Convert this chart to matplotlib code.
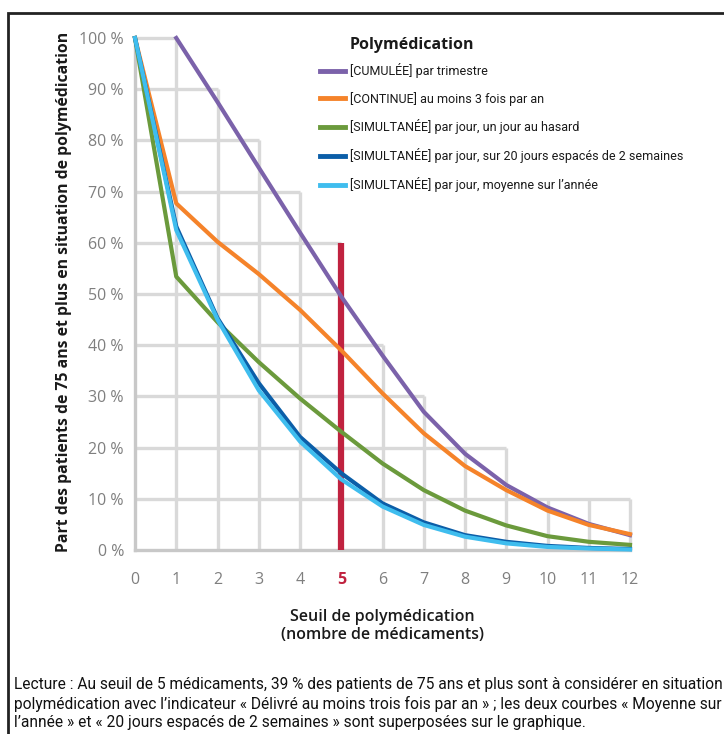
import matplotlib
matplotlib.use("Agg")
import matplotlib.pyplot as plt
from matplotlib.patches import Rectangle
from matplotlib import font_manager as fm

# ---------------- data ----------------
seuils = list(range(0, 13))
cumulee_x = list(range(1, 13))
cumulee = [100, 87.5, 74.7, 62.0, 49.5, 38.0, 27.0, 18.8, 12.7, 8.3, 5.1, 2.9]
continue_ = [100, 67.7, 60.2, 53.9, 46.9, 39.0, 30.6, 22.8, 16.4, 11.7, 7.7, 4.9, 3.1]
simult_hasard = [100, 53.4, 44.5, 36.7, 29.6, 23.1, 16.9, 11.7, 7.7, 4.8, 2.7, 1.6, 1.0]
simult_20j = [100, 63.2, 45.3, 32.6, 22.1, 15.0, 9.1, 5.4, 2.9, 1.6, 0.8, 0.4, 0.2]
simult_moy = [100, 62.5, 45.0, 31.2, 21.2, 13.8, 8.5, 4.9, 2.6, 1.3, 0.6, 0.3, 0.1]

labels = [
    "[CUMULÉE] par trimestre",
    "[CONTINUE] au moins 3 fois par an",
    "[SIMULTANÉE] par jour, un jour au hasard",
    "[SIMULTANÉE] par jour, sur 20 jours espacés de 2 semaines",
    "[SIMULTANÉE] par jour, moyenne sur l’année",
]
colors = ["#7b62aa", "#f5832a", "#6b9a3c", "#0b5ea8", "#3fbdee"]

yticks = [0, 10, 20, 30, 40, 50, 60, 70, 80, 90, 100]
ytick_labels = [f"{v} %" for v in yticks]
# staircase grid extents
hgrid_y = [10, 20, 30, 40, 50, 60, 70, 80, 90, 100]
hgrid_xmax = [12, 9, 7, 6, 5, 5, 4, 3, 2, 1]
vgrid_x = [1, 2, 3, 4, 6, 7, 8, 9, 10, 11, 12]
vgrid_ymax = [100, 90, 80, 70, 40, 30, 20, 20, 10, 10, 10]
seuil_ref = 5
seuil_ref_hauteur = 60

# ---------------- fonts ----------------
avail = {f.name for f in fm.fontManager.ttflist}
narrow = "Roboto" if "Roboto" in avail else "DejaVu Sans"
base = "Open Sans" if "Open Sans" in avail else "DejaVu Sans"

W, H = 724, 734
fig = plt.figure(figsize=(W / 100, H / 100), dpi=100)
ax = fig.add_axes([135 / W, 1 - 550 / H, (630 - 135) / W, (550 - 38) / H])
ax.set_xlim(0, 12)
ax.set_ylim(0, 100)

gridc = "#d9d9d9"
for y, xm in zip(hgrid_y, hgrid_xmax):
    ax.plot([0, xm], [y, y], color=gridc, lw=2.4, zorder=1, clip_on=False,
            solid_capstyle="butt")
for x, ym in zip(vgrid_x, vgrid_ymax):
    ax.plot([x, x], [0, ym], color=gridc, lw=2.4, zorder=1, clip_on=False,
            solid_capstyle="butt")

for s in ["top", "right"]:
    ax.spines[s].set_visible(False)
for s in ["left", "bottom"]:
    ax.spines[s].set_color("#c8c8c8")
    ax.spines[s].set_linewidth(2.4)
    ax.spines[s].set_zorder(1)

# reference bar at seuil 5
ax.plot([seuil_ref, seuil_ref], [0, seuil_ref_hauteur], color="#c0223f", lw=4.5,
        zorder=2, solid_capstyle="butt")

series = [
    (cumulee_x, cumulee),
    (seuils, continue_),
    (seuils, simult_hasard),
    (seuils, simult_20j),
    (seuils, simult_moy),
]
handles = []
for (xs, ys), c, lab in zip(series, colors, labels):
    h, = ax.plot(xs, ys, color=c, lw=3.0, label=lab, zorder=3, clip_on=False,
                 solid_joinstyle="round")
    handles.append(h)

ax.set_xticks(seuils)
ax.set_xticklabels([str(s) for s in seuils])
ax.set_yticks(yticks)
ax.set_yticklabels(ytick_labels)
ax.tick_params(length=0, colors="#7f7f7f", labelsize=11.5)
ax.tick_params(axis="x", pad=16)
ax.tick_params(axis="y", pad=8)
for t in ax.get_xticklabels() + ax.get_yticklabels():
    t.set_fontfamily(base)
    t.set_color("#7f7f7f")
for t in ax.get_xticklabels():
    if t.get_text() == str(seuil_ref):
        t.set_color("#c0223f")
        t.set_fontweight("bold")

ax.set_ylabel("Part des patients de 75 ans et plus en situation de polymédication",
              fontsize=11.3, fontweight="bold", family=base, color="#1a1a1a")
ax.yaxis.set_label_coords(-0.128, 0.505)
ax.set_xlabel("Seuil de polymédication\n(nombre de médicaments)", fontsize=11.5,
              fontweight="semibold", family=base, color="#1a1a1a", labelpad=15,
              linespacing=1.2)

leg = fig.legend(handles=handles, loc="upper left",
                 bbox_to_anchor=(320 / W, 1 - 63 / H), frameon=False,
                 handlelength=2.0, handletextpad=0.4,
                 labelspacing=1.1, borderaxespad=0.0, borderpad=0.0,
                 prop={"family": narrow, "size": 9.0})
for l in leg.get_lines():
    l.set_linewidth(3.5)
for t in leg.get_texts():
    t.set_color("#1a1a1a")
fig.text(350 / W, 1 - 45 / H, "Polymédication", ha="left", va="center",
         fontsize=11.5, fontweight="bold", family=base, color="#1a1a1a")

caption = ("Lecture : Au seuil de 5 médicaments, 39 % des patients de 75 ans et plus sont à considérer en situation de\n"
           "polymédication avec l’indicateur « Délivré au moins trois fois par an » ; les deux courbes « Moyenne sur\n"
           "l’année » et « 20 jours espacés de 2 semaines » sont superposées sur le graphique.")
fig.text(14 / W, 1 - 677 / H, caption, ha="left", va="top", fontsize=11.2,
         family=narrow, color="#111111", linespacing=1.27)

fig.patches.append(Rectangle((8 / W, -0.05), 1.2, 1 - 13 / H + 0.05,
                             transform=fig.transFigure, fill=False,
                             edgecolor="#222222", lw=2.0, clip_on=False))

fig.savefig("out.png", dpi=100)
